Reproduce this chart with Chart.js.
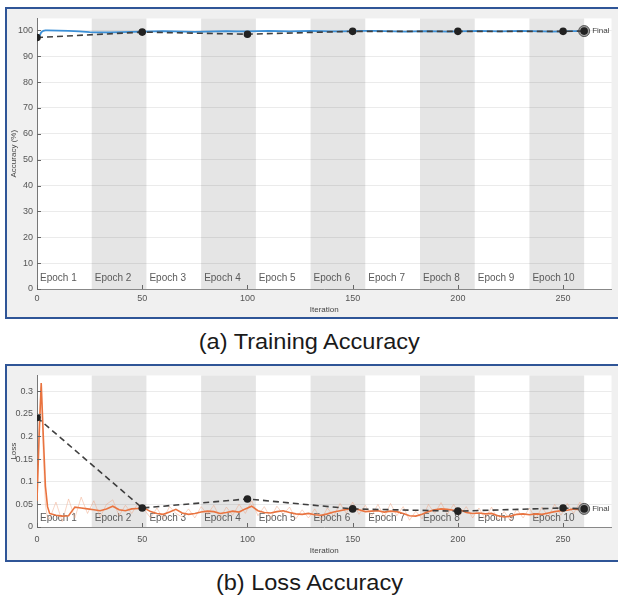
<!DOCTYPE html>
<html>
<head>
<meta charset="utf-8">
<script src="https://cdn.jsdelivr.net/npm/chart.js@4.4.1/dist/chart.umd.min.js"></script>
<style>
body { margin:0; background:#fff; width:618px; height:598px; overflow:hidden; position:relative; font-family:"Liberation Sans", Arial, sans-serif; }
.panel { position:absolute; left:5px; width:620px; border:2px solid #2f5597; background:#f0f0f0; box-sizing:border-box; }
#panelA { top:7px; height:312px; }
#panelB { top:364px; height:198px; }
.panel canvas { position:absolute; left:0; top:0; }
.caption { position:absolute; left:0; width:618px; text-align:center; font-size:22px; line-height:26px; color:#1a1a1a; }
.caption span { display:inline-block; transform:scaleX(1.07); }
</style>
</head>
<body>
<div class="panel" id="panelA"><canvas id="accChart" width="611" height="307"></canvas></div>
<div class="caption" style="top:329px"><span>(a) Training Accuracy</span></div>
<div class="panel" id="panelB"><canvas id="lossChart" width="611" height="193"></canvas></div>
<div class="caption" style="top:570px"><span>(b) Loss Accuracy</span></div>

<script>
// epochs (26 iterations each)
var epochEdges = [0, 26, 52, 78, 104, 130, 156, 182, 208, 234, 260];
var epochLabels = ['Epoch 1', 'Epoch 2', 'Epoch 3', 'Epoch 4', 'Epoch 5', 'Epoch 6', 'Epoch 7', 'Epoch 8', 'Epoch 9', 'Epoch 10'];

// training accuracy (smoothed)
var accIter = [0, 1, 2, 3, 4, 5, 10, 15, 20, 25, 30, 35, 40, 45, 50, 55, 60, 65, 70, 75, 80, 85, 90, 95, 100,
  105, 110, 115, 120, 125, 130, 135, 140, 145, 150, 155, 160, 165, 170, 175, 180, 185, 190, 195, 200,
  205, 210, 215, 220, 225, 230, 235, 240, 245, 250, 255, 260];
var accTrain = [96.5, 97.5, 99.2, 99.8, 100, 100, 99.9, 99.8, 99.6, 99.3, 99.2, 99.2, 99.3, 99.4, 99.5, 99.6, 99.7, 99.6, 99.5, 99.4, 99.5, 99.6, 99.7, 99.6, 99.6,
  99.7, 99.8, 99.7, 99.6, 99.7, 99.8, 99.7, 99.6, 99.6, 99.7, 99.8, 99.8, 99.7, 99.6, 99.5, 99.6, 99.7, 99.6, 99.5, 99.6,
  99.7, 99.8, 99.7, 99.6, 99.7, 99.8, 99.7, 99.6, 99.5, 99.6, 99.7, 99.7];

// validation checkpoints
var valIter = [0, 50, 100, 150, 200, 250, 260];
var accVal = [97.2, 99.3, 98.5, 99.6, 99.6, 99.6, 99.7];
var lossVal = [0.242, 0.042, 0.062, 0.040, 0.035, 0.042, 0.040];

// training loss (smoothed + raw)
var lossIter = [0, 1, 2, 3, 4, 5, 6, 9, 12, 15, 18, 21, 24, 27, 30, 33, 36, 39, 42, 45, 48, 51, 54, 57, 60,
  63, 66, 69, 72, 75, 78, 81, 84, 87, 90, 93, 96, 99, 102, 105, 108, 111, 114, 117, 120, 123, 126, 129, 132,
  135, 138, 141, 144, 147, 150, 153, 156, 159, 162, 165, 168, 171, 174, 177, 180, 183, 186, 189, 192, 195,
  198, 201, 204, 207, 210, 213, 216, 219, 222, 225, 228, 231, 234, 237, 240, 243, 246, 249, 252, 255, 258, 260];
var lossSmooth = [0.058, 0.20, 0.318, 0.20, 0.09, 0.045, 0.030, 0.026, 0.024, 0.025, 0.044, 0.042, 0.040, 0.038, 0.036, 0.040, 0.046, 0.038, 0.036, 0.040, 0.041, 0.042, 0.034, 0.030, 0.028,
  0.033, 0.039, 0.031, 0.028, 0.030, 0.033, 0.035, 0.034, 0.030, 0.032, 0.035, 0.033, 0.040, 0.046, 0.036, 0.032, 0.031, 0.034, 0.036, 0.032, 0.029, 0.028, 0.030, 0.027,
  0.026, 0.029, 0.033, 0.036, 0.039, 0.041, 0.038, 0.034, 0.035, 0.036, 0.033, 0.035, 0.034, 0.030, 0.025, 0.024, 0.028, 0.034, 0.038, 0.040, 0.039,
  0.037, 0.038, 0.032, 0.030, 0.031, 0.029, 0.030, 0.025, 0.022, 0.024, 0.028, 0.029, 0.027, 0.029, 0.028, 0.031, 0.034, 0.036, 0.037, 0.040, 0.038, 0.040];
var lossRaw = [0.058, 0.24, 0.31, 0.16, 0.05, 0.02, 0.018, 0.055, 0.012, 0.062, 0.020, 0.066, 0.030, 0.058, 0.022, 0.050, 0.060, 0.025, 0.048, 0.030, 0.052, 0.038, 0.020, 0.042, 0.018,
  0.045, 0.030, 0.022, 0.040, 0.020, 0.045, 0.028, 0.048, 0.020, 0.044, 0.026, 0.050, 0.030, 0.058, 0.025, 0.045, 0.020, 0.046, 0.028, 0.044, 0.018, 0.038, 0.020, 0.040,
  0.016, 0.042, 0.024, 0.052, 0.030, 0.055, 0.028, 0.048, 0.024, 0.050, 0.022, 0.052, 0.025, 0.045, 0.015, 0.035, 0.018, 0.050, 0.030, 0.054, 0.028,
  0.050, 0.026, 0.045, 0.020, 0.042, 0.018, 0.044, 0.016, 0.034, 0.014, 0.040, 0.020, 0.042, 0.018, 0.044, 0.022, 0.050, 0.026, 0.052, 0.030, 0.055, 0.040];

Chart.defaults.font.family = '"Liberation Sans", Arial, sans-serif';
Chart.defaults.font.size = 9;
Chart.defaults.color = '#555';

function pts(xs, ys) {
  var out = [];
  for (var i = 0; i < xs.length; i++) out.push({x: xs[i], y: ys[i]});
  return out;
}

// keep only ticks on the step (drop the extra max tick)
function stepFilter(step) {
  return function(scale) {
    scale.ticks = scale.ticks.filter(function(t) {
      var r = t.value / step;
      return Math.abs(r - Math.round(r)) < 1e-6;
    });
  };
}

var epochPlugin = {
  id: 'epochs',
  beforeDraw: function(chart, args, opts) {
    var ctx = chart.ctx, a = chart.chartArea, x = chart.scales.x;
    ctx.save();
    ctx.fillStyle = '#ffffff';
    ctx.fillRect(a.left, a.top, a.right - a.left, a.bottom - a.top);
    ctx.fillStyle = '#e5e5e5';
    for (var i = 1; i < epochEdges.length - 1; i += 2) {
      var x0 = x.getPixelForValue(epochEdges[i]);
      var x1 = x.getPixelForValue(epochEdges[i + 1]);
      ctx.fillRect(x0, a.top, x1 - x0, a.bottom - a.top);
    }
    ctx.restore();
  },
  beforeDatasetsDraw: function(chart, args, opts) {
    var ctx = chart.ctx, a = chart.chartArea, x = chart.scales.x;
    ctx.save();
    ctx.font = '10px "Liberation Sans", Arial, sans-serif';
    ctx.fillStyle = '#5a5a5a';
    ctx.textBaseline = 'middle';
    for (var i = 0; i < epochLabels.length; i++) {
      ctx.fillText(epochLabels[i], x.getPixelForValue(epochEdges[i]) + 3, a.bottom - opts.labelOffset);
    }
    ctx.restore();
  },
  afterDatasetsDraw: function(chart, args, opts) {
    var ctx = chart.ctx, a = chart.chartArea, x = chart.scales.x, y = chart.scales.y;
    ctx.save();
    // inward tick marks
    ctx.strokeStyle = '#666';
    ctx.lineWidth = 1;
    ctx.beginPath();
    x.ticks.forEach(function(t) {
      var px = Math.round(x.getPixelForValue(t.value)) + 0.5;
      ctx.moveTo(px, a.bottom);
      ctx.lineTo(px, a.bottom - 4);
    });
    y.ticks.forEach(function(t) {
      var py = Math.round(y.getPixelForValue(t.value)) + 0.5;
      ctx.moveTo(a.left, py);
      ctx.lineTo(a.left + 4, py);
    });
    ctx.stroke();
    // final label
    var n = valIter.length - 1;
    ctx.font = '8px "Liberation Sans", Arial, sans-serif';
    ctx.fillStyle = '#444';
    ctx.textBaseline = 'middle';
    ctx.fillText('Final', x.getPixelForValue(valIter[n]) + 8, y.getPixelForValue(opts.finalValue));
    ctx.restore();
  }
};

function makeChart(id, cfg) {
  var ctx = document.getElementById(id).getContext('2d');
  return new Chart(ctx, {
    type: 'line',
    data: { datasets: cfg.datasets },
    plugins: [epochPlugin],
    options: {
      responsive: false,
      animation: false,
      events: [],
      layout: { padding: { left: 0, right: 6, top: cfg.padTop, bottom: 0 } },
      elements: { line: { tension: 0 } },
      scales: {
        x: {
          type: 'linear', min: 0, max: 273,
          ticks: { stepSize: 50, padding: cfg.xPad, maxRotation: 0, color: '#555' },
          afterBuildTicks: stepFilter(50),
          afterFit: function(s) { s.height = cfg.xHeight; },
          grid: { color: 'rgba(0,0,0,0)', drawTicks: false },
          border: { color: '#888', width: 1 },
          title: { display: true, text: 'Iteration', font: { size: 8 }, color: '#444', padding: { top: 0, bottom: cfg.xTitlePad } }
        },
        y: {
          min: 0, max: cfg.yMax,
          ticks: { stepSize: cfg.yStep, padding: 4, color: '#555',
            callback: function(v) { return String(+v.toFixed(2)); } },
          afterBuildTicks: stepFilter(cfg.yStep),
          afterFit: function(s) { s.width = 30; },
          grid: { color: 'rgba(0,0,0,0.08)', drawTicks: false },
          border: { color: '#777', width: 1 },
          title: { display: true, text: cfg.yTitle, font: { size: 8 }, color: '#444', padding: { top: 2, bottom: 0 } }
        }
      },
      plugins: {
        legend: { display: false },
        tooltip: { enabled: false },
        epochs: { labelOffset: cfg.labelOffset, finalValue: cfg.finalValue }
      }
    }
  });
}

var last = valIter.length - 1;

makeChart('accChart', {
  padTop: 8, xPad: 4, xHeight: 27, xTitlePad: 1, yMax: 104.6, yStep: 10,
  yTitle: 'Accuracy (%)', labelOffset: 11, finalValue: accVal[last],
  datasets: [
    { data: pts(valIter, accVal), borderColor: '#3f3f3f', borderWidth: 1.6, borderDash: [6, 4],
      pointRadius: 3, pointBackgroundColor: '#222', pointBorderColor: '#222', order: 0 },
    { data: [{x: valIter[last], y: accVal[last]}], showLine: false, pointRadius: 5.5,
      pointBackgroundColor: '#a0a0a0', pointBorderColor: '#555', pointBorderWidth: 1, order: 1 },
    { data: pts(accIter, accTrain), borderColor: '#3b8fd6', borderWidth: 1.8, pointRadius: 0, order: 2 }
  ]
});

makeChart('lossChart', {
  padTop: 9, xPad: 7, xHeight: 32, xTitlePad: 3, yMax: 0.335, yStep: 0.05,
  yTitle: 'Loss', labelOffset: 9, finalValue: lossVal[last],
  datasets: [
    { data: pts(valIter, lossVal), borderColor: '#3f3f3f', borderWidth: 1.6, borderDash: [6, 4],
      pointRadius: 3, pointBackgroundColor: '#222', pointBorderColor: '#222', order: 0 },
    { data: [{x: valIter[last], y: lossVal[last]}], showLine: false, pointRadius: 5.5,
      pointBackgroundColor: '#a0a0a0', pointBorderColor: '#555', pointBorderWidth: 1, order: 1 },
    { data: pts(lossIter, lossSmooth), borderColor: '#e9733f', borderWidth: 1.6, pointRadius: 0, order: 2 },
    { data: pts(lossIter, lossRaw), borderColor: 'rgba(240,160,125,0.45)', borderWidth: 1, pointRadius: 0, order: 3 }
  ]
});
</script>
</body>
</html>
